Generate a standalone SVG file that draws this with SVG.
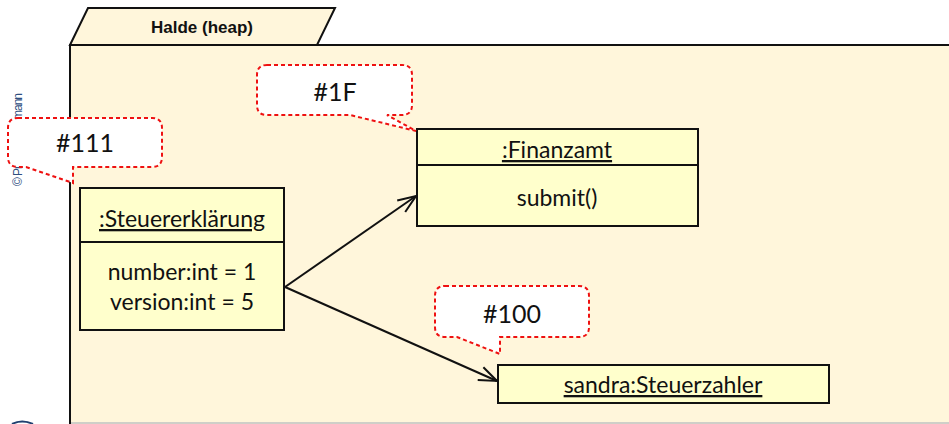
<svg xmlns="http://www.w3.org/2000/svg" width="949" height="424" viewBox="0 0 949 424">
<style>
.frame{fill:#FFF6DB;stroke:#111;stroke-width:2}
.box{fill:#FFFFCC;stroke:#111;stroke-width:2}
.t{font-family:Lato,"Open Sans","Liberation Sans",sans-serif;font-size:23px;fill:#111;text-anchor:middle}
.u{text-decoration:underline}
.call{fill:#fff;stroke:#EE1111;stroke-width:2;stroke-dasharray:4 3}
.ct{font-family:Lato,"Open Sans","Liberation Sans",sans-serif;font-size:25px;fill:#111;text-anchor:middle}
.con{stroke:#111;stroke-width:2;fill:none}
</style>
<defs>
<marker id="open" viewBox="0 0 20 20" refX="19" refY="10" markerWidth="20" markerHeight="20" markerUnits="userSpaceOnUse" orient="auto">
<path d="M1,3 L19,10 L1,17" fill="none" stroke="#111" stroke-width="2"/>
</marker>
</defs>
<rect width="949" height="424" fill="#fff"/>
<g id="heap">
<path class="frame" d="M70,45 L88,8 L335,8 L317,45 Z"/>
<rect class="frame" x="70" y="45" width="890" height="390"/>
<line x1="71" y1="423" x2="949" y2="423" stroke="#cfcfc8" stroke-width="2"/>
<text x="202" y="33" font-family="'Liberation Sans',Arial,sans-serif" font-size="17" font-weight="bold" fill="#111" text-anchor="middle">Halde (heap)</text>
</g>
<text transform="translate(22,186) rotate(-90)" font-family="'Liberation Sans',Arial,sans-serif" font-size="12" fill="#2F4F7F" textLength="93" lengthAdjust="spacing">© Prof. Dr. Neumann</text>
<path d="M12,424 Q22,419 33,424" fill="none" stroke="#1F3F6F" stroke-width="2"/>
<g id="connectors">
<line class="con" x1="285" y1="287" x2="416" y2="196" marker-end="url(#open)"/>
<line class="con" x1="285" y1="287" x2="497" y2="381" marker-end="url(#open)"/>
</g>
<g id="steuererklaerung">
<rect class="box" x="80" y="188" width="204" height="142"/>
<line x1="80" y1="242" x2="284" y2="242" stroke="#111" stroke-width="2"/>
<text class="t u" x="182" y="227">:Steuererklärung</text>
<text class="t" x="182" y="280">number:int = 1</text>
<text class="t" x="182" y="310">version:int = 5</text>
</g>
<g id="finanzamt">
<rect class="box" x="417" y="129" width="281" height="97"/>
<line x1="417" y1="165" x2="698" y2="165" stroke="#111" stroke-width="2"/>
<text class="t u" x="557" y="158">:Finanzamt</text>
<text class="t" x="557" y="206">submit()</text>
</g>
<g id="sandra">
<rect class="box" x="498" y="365" width="331" height="38"/>
<text class="t u" x="663" y="393">sandra:Steuerzahler</text>
</g>
<g id="callout111">
<path class="call" d="M18,118 L152,118 Q162,118 162,128 L162,157 Q162,167 152,167 L73,167 L73,183 L26,167 L18,167 Q8,167 8,157 L8,128 Q8,118 18,118 Z"/>
<text class="ct" x="85" y="152">#111</text>
</g>
<g id="callout1F">
<path class="call" d="M267,65 L402,65 Q412,65 412,75 L412,105 Q412,115 402,115 L387,115 L416,131 L350,115 L267,115 Q257,115 257,105 L257,75 Q257,65 267,65 Z"/>
<text class="ct" x="335" y="101">#1F</text>
</g>
<g id="callout100">
<path class="call" d="M445,286 L579,286 Q589,286 589,296 L589,327 Q589,337 579,337 L500,337 L500,354 L457,337 L445,337 Q435,337 435,327 L435,296 Q435,286 445,286 Z"/>
<text class="ct" x="512" y="323">#100</text>
</g>
</svg>
